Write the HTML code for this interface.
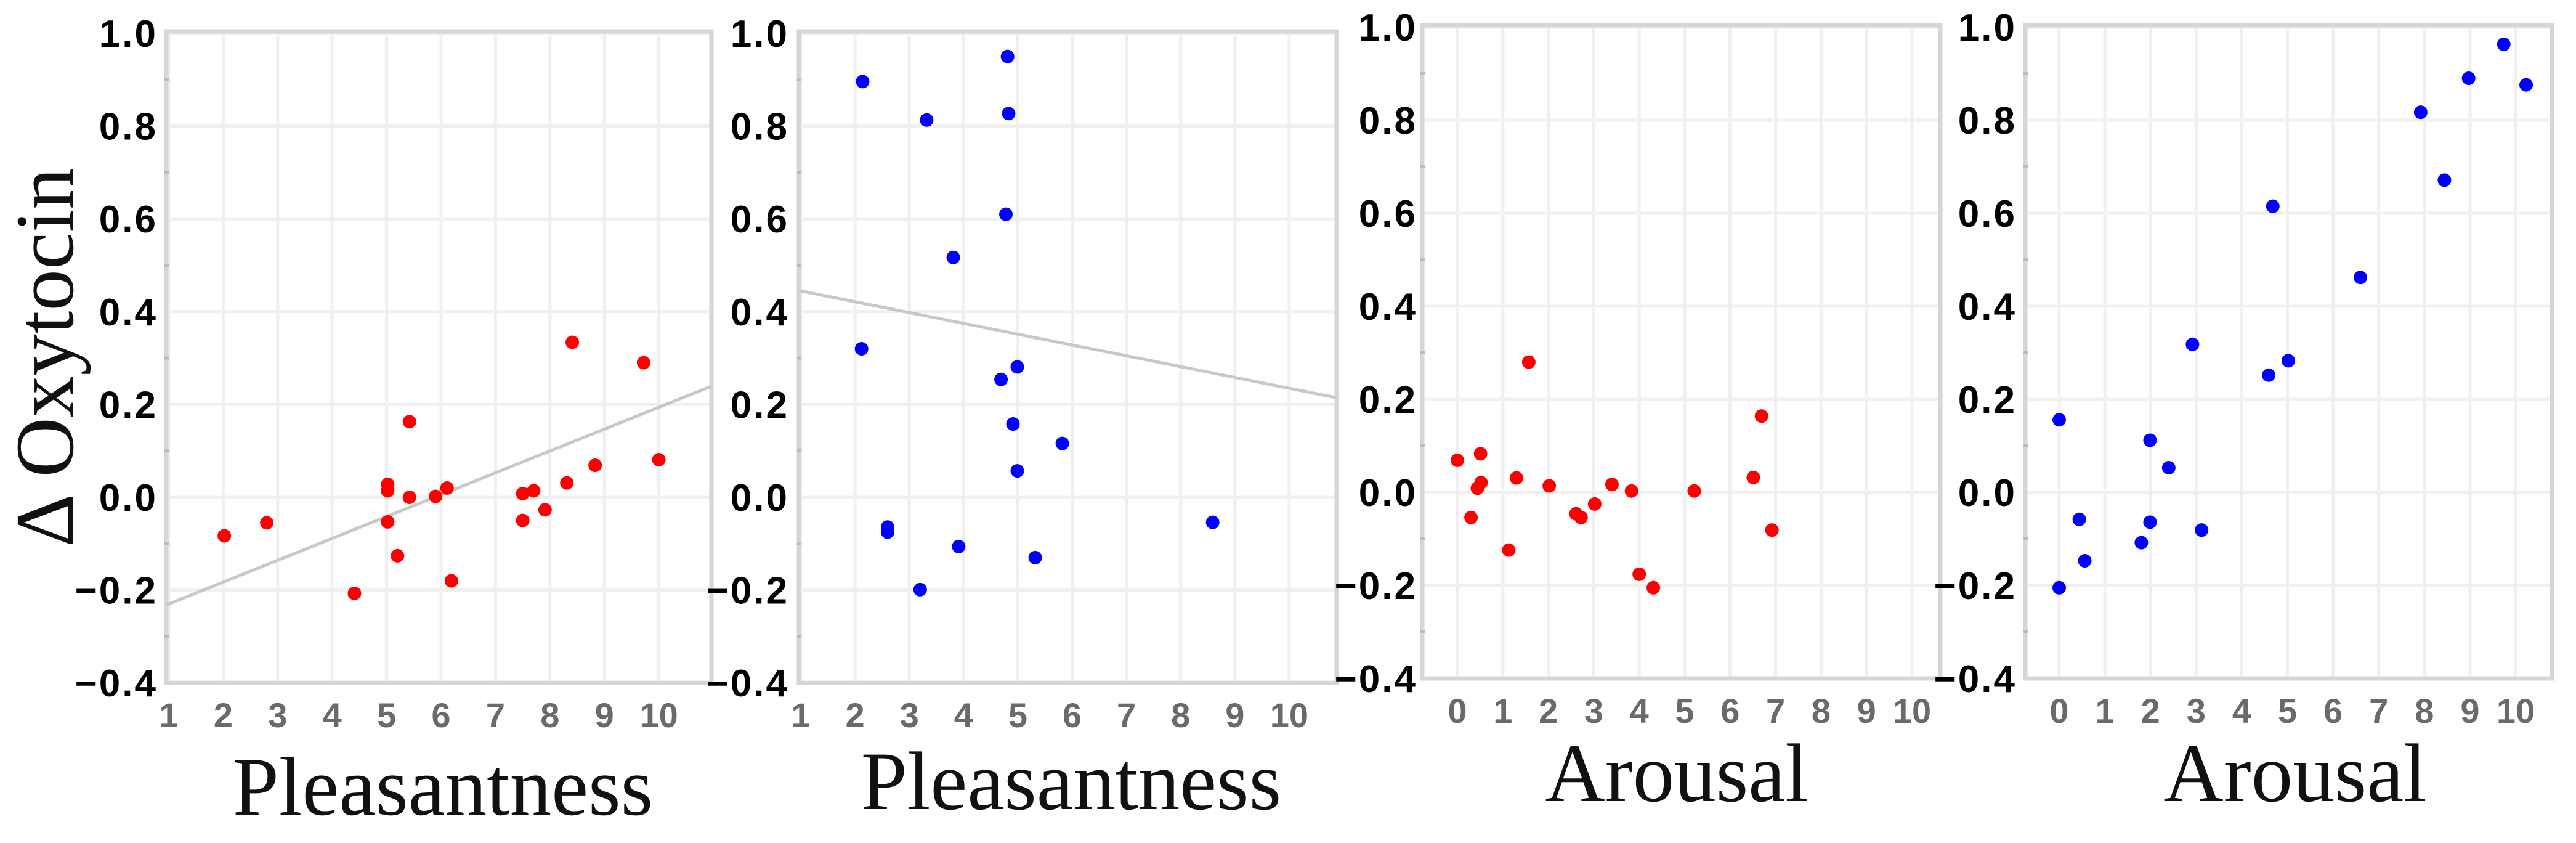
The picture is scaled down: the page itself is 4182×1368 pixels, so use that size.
<!DOCTYPE html>
<html><head><meta charset="utf-8"><style>
html,body{margin:0;padding:0;background:#fff;}
svg{display:block;}
</style></head><body>
<svg id="chart" xmlns="http://www.w3.org/2000/svg" width="4182" height="1368" viewBox="0 0 4182 1368">
<rect x="0" y="0" width="4182" height="1368" fill="#fff"/>
<text transform="translate(118,580) rotate(-90)" text-anchor="middle" font-family="Liberation Serif, serif" font-size="135" fill="#111">Δ Oxytocin</text>
</svg>
<script>
// Panel 1: Pleasantness vs ΔOxytocin (red)
const p1X = [2.02,2.80,4.41,5.02,5.02,5.02,5.20,5.42,5.42,5.90,6.11,6.19,7.50,7.50,7.70,7.91,8.31,8.41,8.83,9.72,10.0];
const p1Y = [-0.083,-0.055,-0.207,-0.053,0.028,0.014,-0.126,0.163,0.0,0.002,0.02,-0.18,-0.05,0.008,0.014,-0.027,0.031,0.334,0.069,0.29,0.081];
const p1Fit = [-0.277, 0.0471];
// Panel 2: Pleasantness (blue)
const p2X = [2.14,2.12,2.60,2.60,3.20,3.32,3.81,3.91,4.69,4.81,4.83,4.78,4.99,4.91,4.99,5.32,5.82,8.59];
const p2Y = [0.896,0.32,-0.064,-0.075,-0.199,0.813,0.517,-0.106,0.254,0.95,0.827,0.61,0.281,0.158,0.057,-0.13,0.116,-0.054];
const p2Fit = [0.468, -0.0233];
// Panel 3: Arousal (red)
const p3X = [0.0,0.30,0.51,0.44,0.52,1.13,1.30,1.57,2.02,2.61,2.72,3.02,3.40,3.83,4.00,4.31,5.21,6.51,6.69,6.92];
const p3Y = [0.069,-0.054,0.083,0.009,0.021,-0.124,0.031,0.28,0.014,-0.046,-0.054,-0.025,0.017,0.003,-0.176,-0.205,0.003,0.032,0.164,-0.081];
// Panel 4: Arousal (blue)
const p4X = [0.0,0.0,0.44,0.56,1.80,1.99,1.99,2.40,2.92,3.12,4.59,4.68,5.02,6.60,7.92,8.44,8.97,9.74,10.23];
const p4Y = [0.156,-0.205,-0.058,-0.147,-0.108,0.112,-0.064,0.053,0.318,-0.081,0.252,0.615,0.283,0.462,0.817,0.671,0.89,0.963,0.876];
const yTicks = [1.0,0.8,0.6,0.4,0.2,0.0,-0.2,-0.4];
const yTickLabels = ["1.0","0.8","0.6","0.4","0.2","0.0","\u22120.2","\u22120.4"];
const pleasTicks = [1,2,3,4,5,6,7,8,9,10];
const arousTicks = [0,1,2,3,4,5,6,7,8,9,10];

const NS = "http://www.w3.org/2000/svg";
const svg = document.getElementById('chart');
function mk(tag, attrs, parent){const e=document.createElementNS(NS,tag);for(const k in attrs)e.setAttribute(k,attrs[k]);(parent||svg).appendChild(e);return e;}

const panels = [
 {id:'p1', xs:p1X, ys:p1Y, fit:p1Fit, color:'#ff0000', x0v:1, x0p:274, xu:88.4, left:270, right:1155, yTop:54, yu:753, ticks:pleasTicks, title:'Pleasantness', titleX:719, titleY:1322, labRight:256},
 {id:'p2', xs:p2X, ys:p2Y, fit:p2Fit, color:'#0000ff', x0v:1, x0p:1300, xu:88.1, left:1297, right:2170, yTop:54, yu:753, ticks:pleasTicks, title:'Pleasantness', titleX:1739, titleY:1313, labRight:1281},
 {id:'p3', xs:p3X, ys:p3Y, fit:null, color:'#ff0000', x0v:0, x0p:2366, xu:73.8, left:2309, right:3150, yTop:44, yu:755, ticks:arousTicks, title:'Arousal', titleX:2722, titleY:1300, labRight:2301},
 {id:'p4', xs:p4X, ys:p4Y, fit:null, color:'#0000ff', x0v:0, x0p:3343, xu:74.1, left:3288, right:4143, yTop:44, yu:755, ticks:arousTicks, title:'Arousal', titleX:3726, titleY:1300, labRight:3274}
];

panels.forEach(p=>{
  const sx = v => p.x0p + (v - p.x0v)*p.xu;
  const sy = v => p.yTop + (1.0 - v)*p.yu;
  const bottom = sy(-0.4);
  const g = mk('g',{});
  
  
  // grid
  p.ticks.forEach(t=>{
    const l=mk('line',{x1:sx(t),x2:sx(t),y1:p.yTop,y2:bottom,stroke:'#f0f0f0','stroke-width':5},g);
    
    
  });
  yTicks.forEach(t=>{
    const l=mk('line',{x1:p.left,x2:p.right,y1:sy(t),y2:sy(t),stroke:'#f0f0f0','stroke-width':5},g);
    
    
  });
  // frame
  const fr=mk('rect',{x:p.left,y:p.yTop-3,width:p.right-p.left,height:bottom-p.yTop+3,fill:'none',stroke:'#d6d6d6','stroke-width':7},g);
  
  
  // minor tick marks on frame
  for(let v=-0.3; v<1.0; v+=0.2){
    const m=mk('line',{x1:p.left-3,x2:p.left+4,y1:sy(v),y2:sy(v),stroke:'#bbb','stroke-width':5},g);
    
    
  }
  // y tick labels
  yTicks.forEach((t,i)=>{
    const tx=mk('text',{x:p.labRight,y:sy(t)+22,'text-anchor':'end','font-family':'Liberation Sans, sans-serif','font-weight':'bold','font-size':62,fill:'#000','letter-spacing':3},g);
    tx.textContent=yTickLabels[i];
    
    
  });
  // x tick labels
  p.ticks.forEach(t=>{
    const tx=mk('text',{x:sx(t),y:bottom+72,'text-anchor':'middle','font-family':'Liberation Sans, sans-serif','font-weight':'bold','font-size':56,fill:'#6a6a6a'},g);
    tx.textContent=String(t);
    
    
  });
  // fit line
  if(p.fit){
    const vL = p.x0v + (p.left - p.x0p)/p.xu, vR = p.x0v + (p.right - p.x0p)/p.xu;
    const fl=mk('line',{x1:sx(vL),y1:sy(p.fit[0]+p.fit[1]*vL),x2:sx(vR),y2:sy(p.fit[0]+p.fit[1]*vR),stroke:'#c8c8c8','stroke-width':5},g);
    
    
  }
  // points
  p.xs.forEach((xv,i)=>{
    const c=mk('circle',{cx:sx(xv),cy:sy(p.ys[i]),r:11,fill:p.color},g);
    
    
  });
  // title
  const tt=mk('text',{x:p.titleX,y:p.titleY,'text-anchor':'middle','font-family':'Liberation Serif, serif','font-size':135,fill:'#111'},g);
  tt.textContent=p.title;
  
  
});
</script>
</body></html>
